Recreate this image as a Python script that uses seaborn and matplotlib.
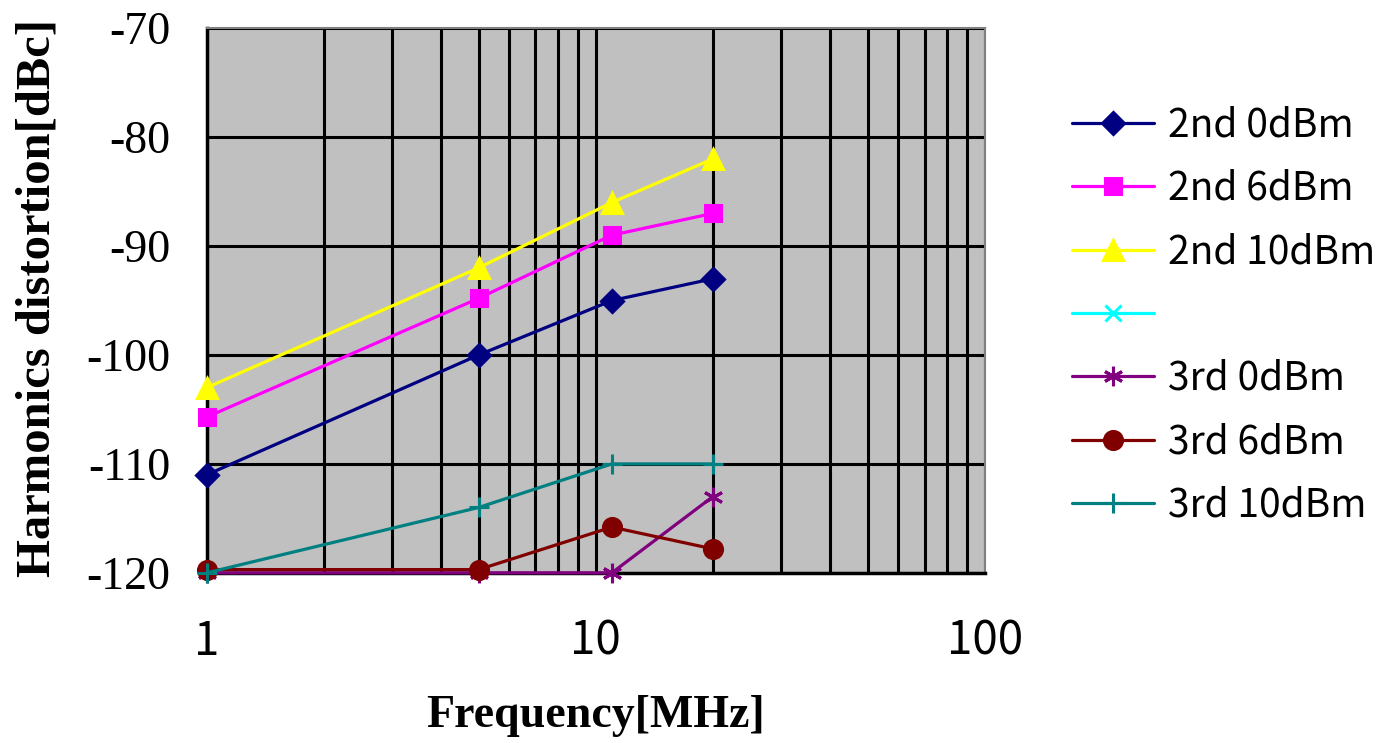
import numpy as np
import pandas as pd
import matplotlib
matplotlib.use("Agg")
import matplotlib.pyplot as plt
from matplotlib.lines import Line2D
import seaborn as sns

# ---- data ----
freq_mhz = [1, 5, 11, 20]
series_names = ["2nd 0dBm", "2nd 6dBm", "2nd 10dBm", "", "3rd 0dBm", "3rd 6dBm", "3rd 10dBm"]
h2_0dbm = [-111, -100, -95, -93]
h2_6dbm = [-105.7, -94.8, -89, -87]
h2_10dbm = [-103, -92, -86, -82]
blank = [np.nan, np.nan, np.nan, np.nan]
h3_0dbm = [-120, -120, -120, -113]
h3_6dbm = [-119.7, -119.7, -115.8, -117.8]
h3_10dbm = [-120, -114, -110, -110]
y_ticks = [-70, -80, -90, -100, -110, -120]
x_ticks = [1, 10, 100]

values = [h2_0dbm, h2_6dbm, h2_10dbm, blank, h3_0dbm, h3_6dbm, h3_10dbm]
colors = ["#000080", "#FF00FF", "#FFFF00", "#00FFFF", "#800080", "#800000", "#008080"]
markers = ["D", "s", "^", "x", (6, 2, 0), "o", "+"]
msizes = [11, 11, 14, 12, 14, 13, 15]

sns.set_style("white")
plt.rcParams["font.family"] = ["Noto Sans CJK JP", "DejaVu Sans"]
plt.rcParams["text.color"] = "black"
plt.rcParams["xtick.color"] = "black"
plt.rcParams["ytick.color"] = "black"
plt.rcParams["axes.labelcolor"] = "black"

fig = plt.figure(figsize=(13.87, 7.43), dpi=100)
ax = fig.add_axes([0.149, 0.229, 0.561, 0.733])
ax.set_facecolor("#C0C0C0")

handles = []
for name, vals, c, m, ms in zip(series_names, values, colors, markers, msizes):
    df = pd.DataFrame({"f": freq_mhz, "v": vals}).dropna()
    if len(df):
        sns.lineplot(data=df, x="f", y="v", ax=ax, color=c, linewidth=2.3,
                     marker=m, markersize=ms, markeredgecolor=c, markeredgewidth=2.2,
                     zorder=5, clip_on=False, legend=False)
    handles.append(Line2D([], [], color=c, linewidth=2.3, marker=m, markersize=ms,
                          markeredgecolor=c, markeredgewidth=2.2))

ax.set_xscale("log")
ax.set_xlim(1, 100)
ax.set_ylim(-120, -70)
ax.set_xticks(x_ticks)
ax.set_xticklabels([str(t) for t in x_ticks])
ax.set_yticks(y_ticks)
ax.set_yticklabels([str(t) for t in y_ticks], family="Liberation Serif")
ax.xaxis.set_minor_locator(matplotlib.ticker.LogLocator(base=10, subs=np.arange(2, 10)))
ax.xaxis.set_minor_formatter(matplotlib.ticker.NullFormatter())
ax.grid(True, which="major", axis="both", color="black", linewidth=2.2)
ax.grid(True, which="minor", axis="x", color="black", linewidth=2.2)
ax.set_axisbelow(True)
ax.tick_params(axis="y", which="both", length=0, labelsize=33, pad=26)
ax.tick_params(axis="x", which="both", length=0, labelsize=33, pad=32)

for s in ["left", "bottom"]:
    ax.spines[s].set_color("black")
    ax.spines[s].set_linewidth(2.5)
for s in ["top", "right"]:
    ax.spines[s].set_color("#808080")
    ax.spines[s].set_linewidth(1.5)

ax.set_xlabel("Frequency[MHz]", family="Liberation Serif", fontweight="bold", fontsize=33)
ax.set_ylabel("Harmonics distortion[dBc]", family="Liberation Serif", fontweight="bold", fontsize=35)
ax.xaxis.set_label_coords(0.5, -0.225)
ax.yaxis.set_label_coords(-0.189, 0.505)

fig.legend(handles, series_names, loc="upper left", bbox_to_anchor=(0.748, 0.905),
           frameon=False, fontsize=28, handlelength=2.1, handletextpad=0.35,
           labelspacing=0.6)

fig.savefig("out.png", dpi=100)
